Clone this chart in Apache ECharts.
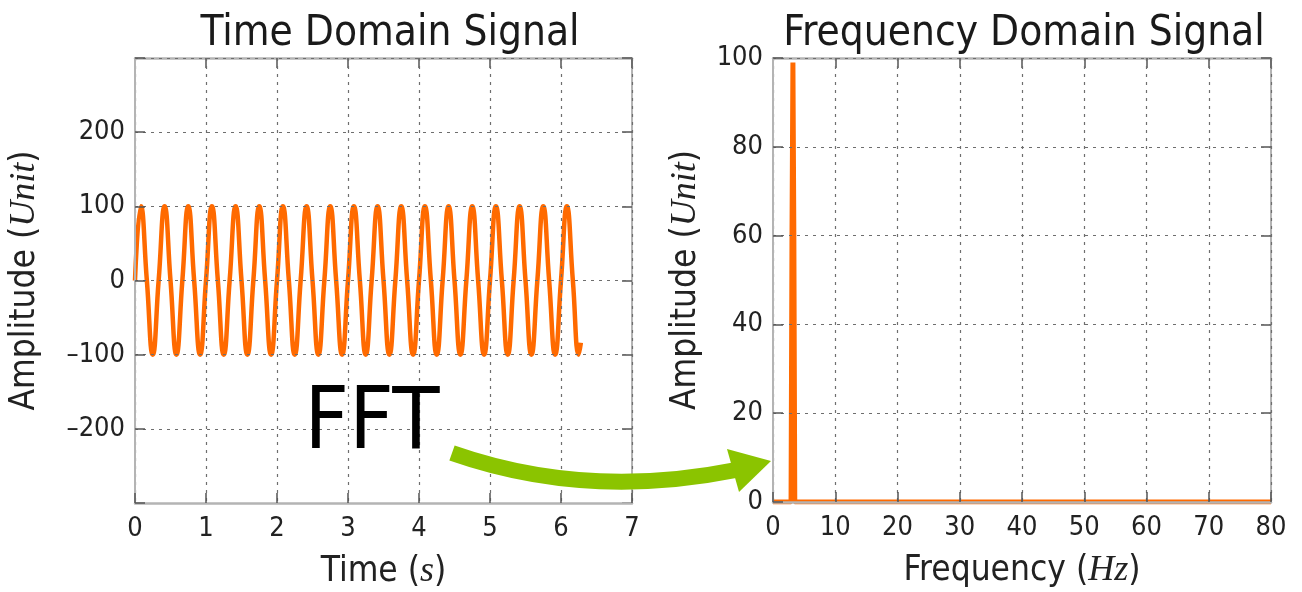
<!DOCTYPE html>
<html>
<head>
<meta charset="utf-8">
<script src="https://cdn.jsdelivr.net/npm/echarts@6/dist/echarts.min.js"></script>
<style>
html,body{margin:0;padding:0;background:#fff;}
#main{width:1302px;height:592px;}
</style>
</head>
<body>
<div id="main"></div>
<script>
// ---- data ----
const timeS = [0,0.083,0.167,0.25,0.333,0.417,0.5,0.583,0.667,0.75,0.833,0.917,1,1.083,1.167,1.25,1.333,1.417,1.5,1.583,1.667,1.75,1.833,1.917,2,2.083,2.167,2.25,2.333,2.417,2.5,2.583,2.667,2.75,2.833,2.917,3,3.083,3.167,3.25,3.333,3.417,3.5,3.583,3.667,3.75,3.833,3.917,4,4.083,4.167,4.25,4.333,4.417,4.5,4.583,4.667,4.75,4.833,4.917,5,5.083,5.167,5.25,5.333,5.417,5.5,5.583,5.667,5.75,5.833,5.917,6,6.083,6.167,6.25,6.28];
const timeAmp = [0,100,0,-100, 0,100,0,-100, 0,100,0,-100, 0,100,0,-100, 0,100,0,-100,
                 0,100,0,-100, 0,100,0,-100, 0,100,0,-100, 0,100,0,-100, 0,100,0,-100,
                 0,100,0,-100, 0,100,0,-100, 0,100,0,-100, 0,100,0,-100, 0,100,0,-100,
                 0,100,0,-100, 0,100,0,-100, 0,100,0,-100, 0,100,0,-100, -84];
const freqHz = [0, 2.9, 3.05, 3.2, 3.35, 3.5, 80];
const freqAmp = [0, 0, 60, 99, 60, 0, 0];
const timeTicks = [0,1,2,3,4,5,6,7];
const ampTicks = [-300,-200,-100,0,100,200,300];
const freqTicks = [0,10,20,30,40,50,60,70,80];
const specTicks = [0,20,40,60,80,100];
const titles = ['Time Domain Signal', 'Frequency Domain Signal'];

// ---- styling ----
const FONT = "'DejaVu Sans Condensed', 'DejaVu Sans', sans-serif";
const SERIF = "'Liberation Serif', 'DejaVu Serif', serif";
const ORANGE = '#ff6a00';
const FRAME = '#b4b4b4';
const GRID_LINE = {show: true, lineStyle: {color: '#6e6e6e', width: 1.2, type: [3, 5]}};
const TICK = {show: true, inside: true, length: 10, lineStyle: {color: '#555', width: 1.5}};
const LABEL = {color: '#222', fontSize: 27, fontFamily: FONT};
const italicRich = {i: {fontFamily: SERIF, fontStyle: 'italic', fontSize: 36, color: '#222'}};
const nameStyle = {color: '#222', fontSize: 35, fontFamily: FONT, rich: italicRich};

function minus(v){ return v < 0 ? '\u2013' + (-v) : String(v); }

function xAx(grid, arr, name, primary){
  return {
    type: 'value', gridIndex: grid, position: primary ? 'bottom' : 'top',
    min: arr[0], max: arr[arr.length-1], interval: arr[1]-arr[0],
    z: primary ? 3 : 1,
    axisLine: {show: true, onZero: false, lineStyle: {color: FRAME, width: 2.5}},
    axisTick: TICK,
    splitLine: primary ? GRID_LINE : {show: false},
    axisLabel: primary ? Object.assign({margin: 12, formatter: minus}, LABEL) : {show: false},
    name: primary ? name : '', nameLocation: 'middle', nameGap: 51, nameTextStyle: nameStyle
  };
}
function yAx(grid, arr, name, primary, gap, fmt){
  return {
    type: 'value', gridIndex: grid, position: primary ? 'left' : 'right',
    min: arr[0], max: arr[arr.length-1], interval: arr[1]-arr[0],
    z: primary ? 3 : 1,
    axisLine: {show: true, onZero: false, lineStyle: {color: FRAME, width: 2}},
    axisTick: TICK,
    splitLine: primary ? GRID_LINE : {show: false},
    axisLabel: primary ? Object.assign({margin: 10, formatter: fmt}, LABEL) : {show: false},
    name: primary ? name : '', nameLocation: 'middle', nameGap: gap, nameRotate: 90, nameTextStyle: nameStyle
  };
}

const chart = echarts.init(document.getElementById('main'), null, {renderer: 'canvas'});
const option = {
  backgroundColor: '#ffffff',
  animation: false,
  title: [
    {text: titles[0], left: 385, top: 8, textAlign: 'center', textStyle: {fontFamily: FONT, fontSize: 42, fontWeight: 'normal', color: '#1a1a1a'}},
    {text: titles[1], left: 1019, top: 8, textAlign: 'center', textStyle: {fontFamily: FONT, fontSize: 42, fontWeight: 'normal', color: '#1a1a1a'}}
  ],
  grid: [
    {left: 135, top: 58, width: 497, height: 445, containLabel: false, outerBoundsMode: 'none'},
    {left: 773, top: 58, width: 498, height: 444, containLabel: false, outerBoundsMode: 'none'}
  ],
  xAxis: [
    xAx(0, timeTicks, 'Time ({i|s})', true),
    xAx(0, timeTicks, '', false),
    xAx(1, freqTicks, 'Frequency ({i|Hz})', true),
    xAx(1, freqTicks, '', false)
  ],
  yAxis: [
    yAx(0, ampTicks, 'Amplitude ({i|Unit})', true, 92, v => Math.abs(v) === 300 ? '' : minus(v)),
    yAx(0, ampTicks, '', false, 0, null),
    yAx(1, specTicks, 'Amplitude ({i|Unit})', true, 69, minus),
    yAx(1, specTicks, '', false, 0, null)
  ],
  series: [
    {
      type: 'line', xAxisIndex: 0, yAxisIndex: 0, smooth: 0.5, symbol: 'none', clip: true,
      lineStyle: {color: ORANGE, width: 4.5}, z: 2,
      data: timeS.map((t, i) => [t, timeAmp[i]])
    },
    {
      type: 'line', xAxisIndex: 2, yAxisIndex: 2, symbol: 'none', clip: true,
      lineStyle: {color: ORANGE, width: 5}, z: 2,
      data: freqHz.map((f, i) => [f, freqAmp[i]])
    }
  ],
  graphic: [
    {
      type: 'bezierCurve', z: 100,
      shape: {x1: 452, y1: 453, x2: 736, y2: 470, cpx1: 586, cpy1: 500},
      style: {stroke: '#8bc400', lineWidth: 16, fill: null, lineCap: 'butt'}
    },
    {
      type: 'polygon', z: 100,
      shape: {points: [[771, 461], [727, 449], [739, 492]]},
      style: {fill: '#8bc400'}
    },
    {
      type: 'text', z: 100, x: 372, y: 426,
      style: {text: 'FFT', fontFamily: FONT, fontSize: 86, fill: '#000', align: 'center', verticalAlign: 'middle'}
    }
  ]
};
chart.setOption(option);
</script>
</body>
</html>
